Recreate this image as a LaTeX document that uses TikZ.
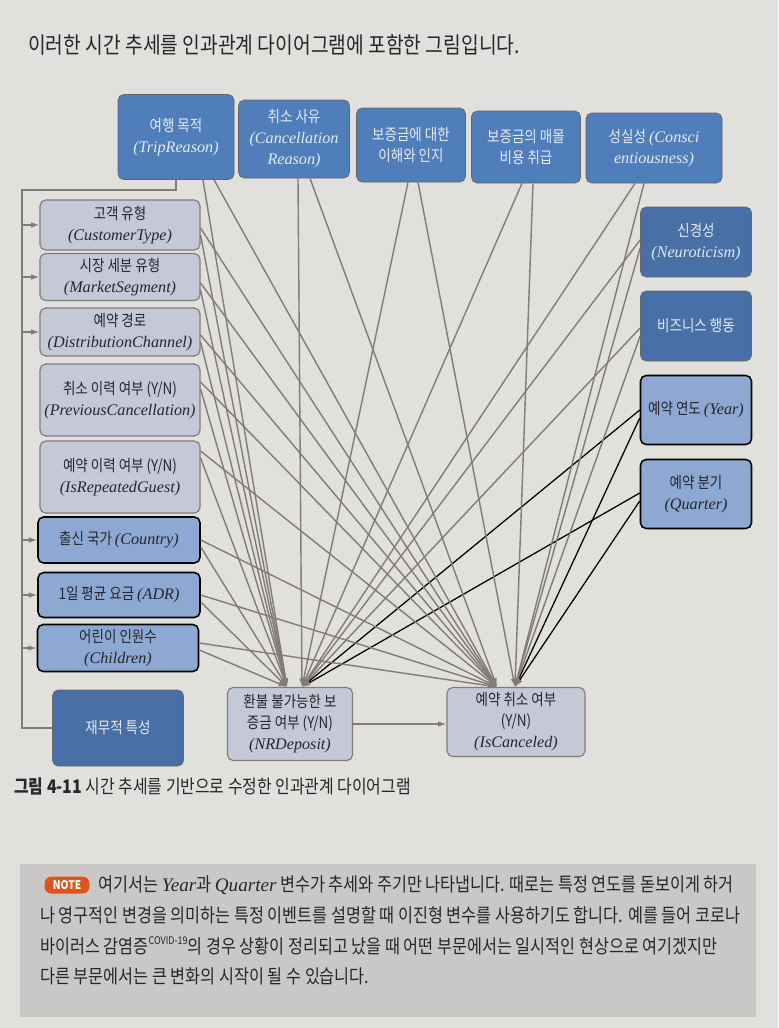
\documentclass[tikz,border=0pt]{standalone}
\usepackage{fontspec}
\setmainfont{Liberation Serif}
\newfontfamily\kr[FakeStretch=0.85]{Noto Sans CJK KR}
\usepackage{xcolor}
\usepackage{tikz}
\usetikzlibrary{arrows.meta, positioning, calc}
\definecolor{mybg}{RGB}{226, 224, 221}
\definecolor{mytop}{RGB}{80, 126, 186}
\definecolor{mydark}{RGB}{72, 111, 166}
\definecolor{mylight}{RGB}{141, 168, 210}
\definecolor{mygray}{RGB}{197, 200, 214}
\definecolor{myline}{RGB}{128, 124, 120}
\definecolor{mynote}{RGB}{201, 200, 198}
\definecolor{myorange}{RGB}{222, 84, 32}
\definecolor{mytext}{RGB}{38, 38, 44}
\definecolor{mywhite}{RGB}{230, 234, 242}
\newlength{\pxu}\setlength{\pxu}{0.025cm}
\newcommand{\eng}[1]{{\rmfamily\itshape\fontsize{11.5}{15}\selectfont #1}}

\begin{document}
\begin{tikzpicture}[x=0.025cm, y=-0.025cm,
    box/.style={rounded corners=4pt, align=center, inner sep=1pt, font=\kr\fontsize{11.3}{15}\selectfont},
    topbox/.style={box, fill=mytop, draw=gray!80!black, line width=0.5pt, text=mywhite},
    darkbox/.style={topbox, fill=mydark},
    graybox/.style={box, fill=mygray, draw=myline, line width=0.8pt, text=mytext},
    bluebox/.style={box, fill=mylight, draw=black, line width=1.1pt, text=mytext},
    edge/.style={myline, line width=1pt, -{Latex[length=6pt, width=4pt]}},
    blackedge/.style={black, line width=0.9pt, -{Latex[length=6pt, width=4pt, color=myline]}},
    busline/.style={myline, line width=1pt},
    pagetext/.style={anchor=west, inner sep=0, text=mytext},
    notetext/.style={pagetext, font=\kr\fontsize{13.6}{15}\selectfont}]
    % 배경
    \fill[mybg] (0,0) rectangle (778,1028);
    \node[pagetext, font=\kr\fontsize{16.1}{18}\selectfont] (intro) at (28,45) {이러한 시간 추세를 인과관계 다이어그램에 포함한 그림입니다.};

    % 위쪽 상자
    \node[topbox, minimum width=116\pxu, minimum height=85\pxu] (trip) at (176,137) {여행 목적\\\eng{(TripReason)}};
    \node[topbox, minimum width=111\pxu, minimum height=78\pxu] (cancel) at (294,139) {취소 사유\\\eng{(Cancellation}\\\eng{Reason)}};
    \node[topbox, minimum width=109\pxu, minimum height=74\pxu] (aware) at (411,145) {보증금에 대한\\이해와 인지};
    \node[topbox, minimum width=109\pxu, minimum height=72\pxu] (sunk) at (526,147) {보증금의 매몰\\비용 취급};
    \node[topbox, minimum width=136\pxu, minimum height=70\pxu] (consc) at (654,148) {성실성 \eng{(Consci}\\\eng{entiousness)}};

    % 오른쪽 상자
    \node[darkbox, minimum width=111\pxu, minimum height=70\pxu] (neuro) at (696,242) {신경성\\\eng{(Neuroticism)}};
    \node[darkbox, minimum width=111\pxu, minimum height=70\pxu] (biz) at (696,326) {비즈니스 행동};
    \node[bluebox, minimum width=111\pxu, minimum height=69\pxu] (year) at (696,410) {예약 연도 \eng{(Year)}};
    \node[bluebox, minimum width=111\pxu, minimum height=69\pxu] (quarter) at (696,494) {예약 분기\\\eng{(Quarter)}};

    % 왼쪽 상자
    \node[graybox, minimum width=160\pxu, minimum height=50\pxu] (cust) at (120,225) {고객 유형\\\eng{(CustomerType)}};
    \node[graybox, minimum width=160\pxu, minimum height=47\pxu] (market) at (120,277) {시장 세분 유형\\\eng{(MarketSegment)}};
    \node[graybox, minimum width=160\pxu, minimum height=48\pxu] (channel) at (120,332) {예약 경로\\\eng{(DistributionChannel)}};
    \node[graybox, minimum width=160\pxu, minimum height=72\pxu] (prevcan) at (120,400) {취소 이력 여부 (Y/N)\\\eng{(PreviousCancellation)}};
    \node[graybox, minimum width=160\pxu, minimum height=72\pxu] (repguest) at (120,477) {예약 이력 여부 (Y/N)\\\eng{(IsRepeatedGuest)}};
    \node[bluebox, minimum width=162\pxu, minimum height=46\pxu] (country) at (119,540) {출신 국가 \eng{(Country)}};
    \node[bluebox, minimum width=162\pxu, minimum height=45\pxu] (adr) at (119,595) {1일 평균 요금 \eng{(ADR)}};
    \node[bluebox, minimum width=161\pxu, minimum height=47\pxu] (kids) at (118,648) {어린이 인원수\\\eng{(Children)}};
    \node[darkbox, minimum width=131\pxu, minimum height=76\pxu] (fin) at (118,728) {재무적 특성};

    % 결과 상자
    \node[graybox, minimum width=125\pxu, minimum height=73\pxu] (nrdep) at (290,724) {환불 불가능한 보\\증금 여부 (Y/N)\\\eng{(NRDeposit)}};
    \node[graybox, minimum width=138\pxu, minimum height=69\pxu] (iscan) at (516,722) {예약 취소 여부\\(Y/N)\\\eng{(IsCanceled)}};
    \coordinate (na1) at ($(nrdep.north)+(-3,0)$);
    \coordinate (na2) at ($(nrdep.north)+(12,0)$);
    \coordinate (nb1) at ($(iscan.north)+(-19,0)$);
    \coordinate (nb2) at ($(iscan.north)+(-1,0)$);

    % 시간 추세 (검은 선)
    \foreach \s/\u in {year/0, quarter/-1}{
        \draw[blackedge] ($(\s.west)+(0,\u)$) -- (na2);
        \draw[blackedge] ($(\s.west)+(0,\u+8)$) -- (nb2);
    }
    % 나머지 인과관계
    \foreach \s/\u in {neuro/-2, biz/2}{
        \draw[edge] ($(\s.west)+(0,\u)$) -- (na2);
        \draw[edge] ($(\s.west)+(0,\u+8)$) -- (nb2);
    }
    \foreach \s/\a/\b/\ta/\tb in {trip/27/38/na1/nb1, cancel/4/16/na2/nb1, aware/-3/7/na2/nb2, sunk/-4/7/na2/nb2, consc/-19/-10/na2/nb2}{
        \draw[edge] ($(\s.south)+(\a,0)$) -- (\ta);
        \draw[edge] ($(\s.south)+(\b,0)$) -- (\tb);
    }
    \foreach \s/\u in {cust/3, market/6, channel/3, prevcan/-18, repguest/-26, country/0, adr/0, kids/-5}{
        \draw[edge] ($(\s.east)+(0,\u)$) -- (nb1);
        \draw[edge] ($(\s.east)+(0,\u+7)$) -- (na1);
    }
    \draw[edge] (nrdep.east) -- (nrdep.east -| iscan.west);

    % 왼쪽 연결선
    \coordinate (bus) at (22,190);
    \draw[busline] (trip.south) |- (bus) |- (fin.west);
    \foreach \s in {cust, market, channel, country, adr, kids}
        \draw[edge] (bus |- \s.west) -- (\s.west);

    % 캡션
    \node[pagetext, font=\kr\fontsize{13.3}{15}\selectfont] (caption) at (14,786) {\textbf{그림 4-11} 시간 추세를 기반으로 수정한 인과관계 다이어그램};

    % NOTE
    \node[fill=mynote, minimum width=736\pxu, minimum height=153\pxu, inner sep=0] (notebox) at (388,940) {};
    \node[fill=myorange, rounded corners=5pt, text=white, font=\kr\bfseries\fontsize{8.5}{9}\selectfont, minimum width=45\pxu, minimum height=17\pxu, inner sep=0] (badge) at (67,885) {NOTE};
    \node[notetext, right=6pt of badge] (l1) {여기서는 {\rmfamily\itshape Year}과 {\rmfamily\itshape Quarter} 변수가 추세와 주기만 나타냅니다. 때로는 특정 연도를 돋보이게 하거};
    \node[notetext] (l2) at (40,915) {나 영구적인 변경을 의미하는 특정 이벤트를 설명할 때 이진형 변수를 사용하기도 합니다. 예를 들어 코로나};
    \node[notetext] (l3) at (40,946) {바이러스 감염증\raisebox{0.45em}{\fontsize{7.5}{8}\selectfont COVID-19}의 경우 상황이 정리되고 났을 때 어떤 부문에서는 일시적인 현상으로 여기겠지만};
    \node[notetext] (l4) at (40,976) {다른 부문에서는 큰 변화의 시작이 될 수 있습니다.};
\end{tikzpicture}
\end{document}
